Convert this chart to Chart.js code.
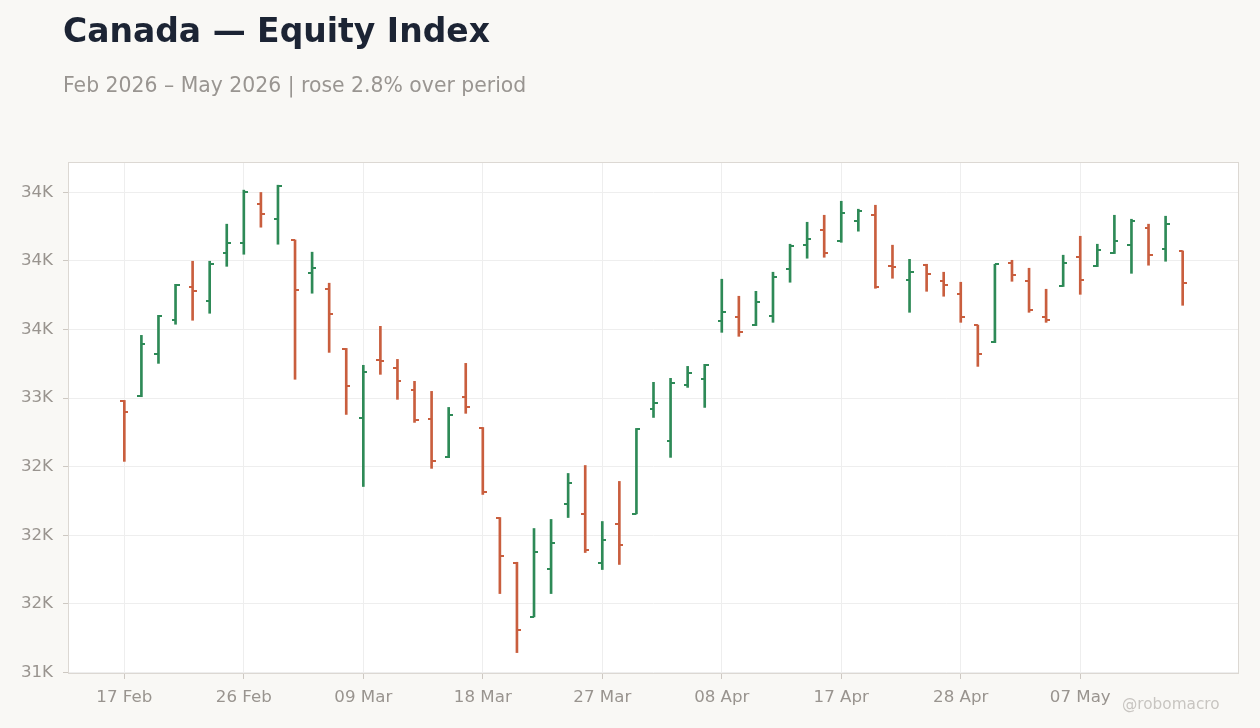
<!DOCTYPE html>
<html>
<head>
<meta charset="utf-8">
<script src="https://cdn.jsdelivr.net/npm/chart.js@4.4.1/dist/chart.umd.min.js"></script>
<style>
    body { margin: 0; background: #f9f8f5; font-family: "DejaVu Sans", sans-serif; }
    #wrap { position: relative; width: 1260px; height: 728px; overflow: hidden; }
    #chart { position: absolute; left: 0; top: 0; }
    #title { position: absolute; left: 63px; top: 14px; font-size: 33px; line-height: 1; font-weight: bold; color: #1c2434; white-space: nowrap; }
    #subtitle { position: absolute; left: 63px; top: 75px; font-size: 20.4px; line-height: 1; color: #999591; white-space: nowrap; }
    #credit { position: absolute; left: 1122px; top: 697px; font-size: 15.3px; line-height: 1; color: #c8c5c1; white-space: nowrap; }
</style>
</head>
<body>
<div id="wrap">
    <canvas id="chart" width="1260" height="728"></canvas>
    <div id="title">Canada — Equity Index</div>
    <div id="subtitle">Feb 2026 – May 2026 | rose 2.8% over period</div>
    <div id="credit">@robomacro</div>
</div>
<script>
// trading days (Family Day, Good Friday and Victoria Day are missing)
const DATES = [
    '17 Feb', '18 Feb', '19 Feb', '20 Feb', '23 Feb', '24 Feb', '25 Feb', '26 Feb', '27 Feb',
    '02 Mar', '03 Mar', '04 Mar', '05 Mar', '06 Mar', '09 Mar', '10 Mar', '11 Mar', '12 Mar', '13 Mar',
    '16 Mar', '17 Mar', '18 Mar', '19 Mar', '20 Mar', '23 Mar', '24 Mar', '25 Mar', '26 Mar', '27 Mar',
    '30 Mar', '31 Mar',
    '01 Apr', '02 Apr', '06 Apr', '07 Apr', '08 Apr', '09 Apr', '10 Apr', '13 Apr', '14 Apr', '15 Apr',
    '16 Apr', '17 Apr', '20 Apr', '21 Apr', '22 Apr', '23 Apr', '24 Apr', '27 Apr', '28 Apr', '29 Apr', '30 Apr',
    '01 May', '04 May', '05 May', '06 May', '07 May', '08 May', '11 May', '12 May', '13 May', '14 May', '15 May'
];

const OPEN = [32976, 33012, 33319, 33567, 33807, 33705, 34055, 34128, 34413, 34303, 34150, 33909, 33793, 33355, 32852, 33275,
    33217, 33056, 32845, 32568, 33005, 32779, 32123, 31802, 31408, 31758, 32232, 32159, 31802, 32086, 32159, 32918,
    32684, 33093, 33137, 33559, 33589, 33530, 33596, 33939, 34114, 34223, 34143, 34289, 34332, 33960, 33858, 33968,
    33851, 33756, 33530, 33406, 33982, 33851, 33589, 33815, 34026, 33960, 34055, 34114, 34238, 34084, 34070];
const HIGH = [32983, 33457, 33603, 33829, 33997, 33997, 34267, 34515, 34498, 34551, 34152, 34063, 33837, 33362, 33239, 33523,
    33282, 33122, 33049, 32932, 33253, 32786, 32130, 31804, 32050, 32116, 32451, 32509, 32101, 32393, 32779, 33115,
    33144, 33231, 33246, 33866, 33742, 33778, 33917, 34121, 34281, 34332, 34434, 34376, 34405, 34114, 34011, 33975,
    33917, 33844, 33532, 33975, 34004, 33946, 33793, 34041, 34179, 34121, 34332, 34303, 34267, 34325, 34072];
const LOW = [32539, 33010, 33253, 33538, 33567, 33618, 33960, 34048, 34245, 34121, 33137, 33764, 33333, 32881, 32356, 33173,
    32991, 32823, 32488, 32566, 32889, 32298, 31576, 31146, 31406, 31576, 32130, 31875, 31751, 31788, 32157, 32859,
    32568, 33078, 32932, 33479, 33450, 33528, 33552, 33844, 34019, 34026, 34135, 34216, 33800, 33873, 33625, 33778,
    33742, 33552, 33231, 33404, 33851, 33625, 33552, 33813, 33756, 33958, 34053, 33909, 33968, 33997, 33676];
const CLOSE = [32896, 33392, 33596, 33822, 33778, 33975, 34128, 34500, 34340, 34544, 33785, 33946, 33610, 33085, 33188, 33268,
    33122, 32838, 32539, 32874, 32932, 32313, 31853, 31314, 31882, 31941, 32385, 31890, 31963, 31933, 32772, 32961,
    33107, 33180, 33244, 33625, 33479, 33698, 33880, 34106, 34157, 34055, 34347, 34362, 33807, 33953, 33917, 33902,
    33822, 33589, 33319, 33975, 33895, 33640, 33567, 33982, 33858, 34077, 34143, 34289, 34041, 34267, 33837];

const X_TICK_IDX = [0, 7, 14, 21, 28, 35, 42, 49, 56];
const Y_TICKS = [31000, 31500, 32000, 32500, 33000, 33500, 34000, 34500];

const UP = '#2e8a57';
const DOWN = '#c95e3e';

function colorFor(i) {
    return CLOSE[i] >= OPEN[i] ? UP : DOWN;
}

// small horizontal stubs used as point images, left half = open, right half = close
function stub(color, side) {
    const c = document.createElement('canvas');
    c.width = 8;
    c.height = 2;
    const g = c.getContext('2d');
    g.fillStyle = color;
    g.fillRect(side === 'open' ? 0 : 4, 0, 4, 2);
    return c;
}
const STUBS = {
    open: { up: stub(UP, 'open'), down: stub(DOWN, 'open') },
    close: { up: stub(UP, 'close'), down: stub(DOWN, 'close') }
};

// labels rounded half-to-even, as the source does (34.5K -> 34K)
function fmtK(v) {
    const k = v / 1000;
    const f = Math.floor(k);
    const d = k - f;
    let r;
    if (Math.abs(d - 0.5) < 1e-9) r = (f % 2 === 0) ? f : f + 1;
    else r = Math.round(k);
    return r + 'K';
}

const framePlugin = {
    id: 'frame',
    beforeDraw(chart) {
        const { ctx, chartArea: a } = chart;
        ctx.save();
        ctx.fillStyle = '#ffffff';
        ctx.fillRect(a.left, a.top, a.right - a.left, a.bottom - a.top);
        ctx.restore();
    },
    afterDraw(chart) {
        const { ctx, chartArea: a } = chart;
        ctx.save();
        ctx.strokeStyle = '#dcd8d3';
        ctx.lineWidth = 1;
        ctx.strokeRect(a.left + 0.5, a.top + 0.5, a.right - a.left - 1, a.bottom - a.top - 1);
        ctx.restore();
    }
};

const tickFont = { family: 'DejaVu Sans', size: 16.67 };

const ctx = document.getElementById('chart').getContext('2d');
new Chart(ctx, {
    type: 'bar',
    data: {
        datasets: [
            {
                type: 'bar',
                data: DATES.map((d, i) => ({ x: i, y: [LOW[i], HIGH[i]] })),
                backgroundColor: c => colorFor(c.dataIndex || 0),
                barThickness: 2,
                borderWidth: 0,
                borderSkipped: false
            },
            {
                type: 'scatter',
                data: OPEN.map((v, i) => ({ x: i, y: v })),
                pointStyle: c => STUBS.open[colorFor(c.dataIndex || 0) === UP ? 'up' : 'down'],
                pointRadius: 3
            },
            {
                type: 'scatter',
                data: CLOSE.map((v, i) => ({ x: i, y: v })),
                pointStyle: c => STUBS.close[colorFor(c.dataIndex || 0) === UP ? 'up' : 'down'],
                pointRadius: 3
            }
        ]
    },
    options: {
        responsive: false,
        animation: false,
        events: [],
        layout: { padding: { top: 162, right: 21, left: 0, bottom: 0 } },
        plugins: {
            legend: { display: false },
            tooltip: { enabled: false }
        },
        scales: {
            x: {
                type: 'linear',
                min: -3.3,
                max: 65.3,
                offset: false,
                afterBuildTicks: axis => { axis.ticks = X_TICK_IDX.map(v => ({ value: v })); },
                afterFit: axis => { axis.height = 54; },
                grid: { color: '#eeeeee', tickColor: '#cdc8c2', tickLength: 5, offset: false },
                border: { display: false },
                ticks: {
                    color: '#99948f',
                    font: tickFont,
                    padding: 9,
                    maxRotation: 0,
                    autoSkip: false,
                    callback: v => DATES[v]
                }
            },
            y: {
                min: 30990,
                max: 34720,
                afterBuildTicks: axis => { axis.ticks = Y_TICKS.map(v => ({ value: v })); },
                afterFit: axis => { axis.width = 68; },
                grid: { color: '#eeeeee', tickColor: '#cdc8c2', tickLength: 5 },
                border: { display: false },
                ticks: {
                    color: '#99948f',
                    font: tickFont,
                    padding: 10,
                    callback: v => fmtK(v)
                }
            }
        }
    },
    plugins: [framePlugin]
});
</script>
</body>
</html>
